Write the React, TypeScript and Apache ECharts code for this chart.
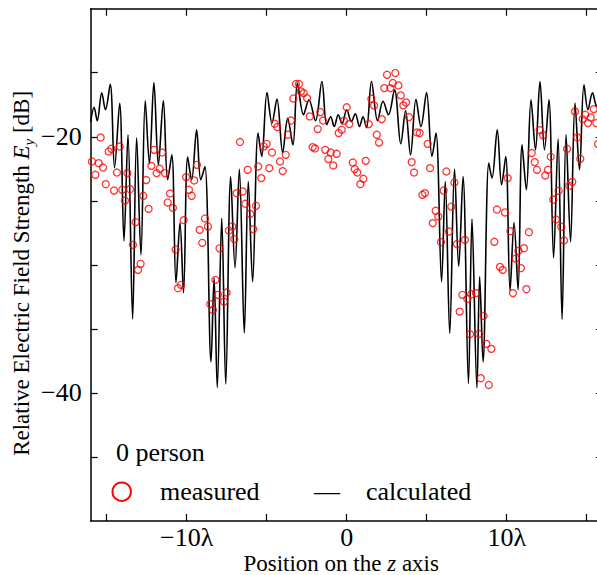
import React, { useEffect, useRef } from 'react';
import * as echarts from 'echarts';

const SERIF = '"Liberation Serif", "Times New Roman", serif';

const xTicks = [-15, -10, -5, 0, 5, 10, 15];
const xTickLabels = [-10, 0, 10];
const yTicks = [-45, -40, -35, -30, -25, -20, -15];
const yTickLabels = [-40, -20];

const legendTitle = '0 person';
const measuredName = 'measured';
const calculatedName = 'calculated';

const calcX = [
  -16.0, -15.79, -15.59, -15.31, -15.08, -14.78, -14.51, -14.19, -13.92, -13.67,
  -13.38, -13.13, -12.86, -12.59, -12.33, -12.05, -11.77, -11.46, -11.19, -10.93,
  -10.67, -10.42, -10.2, -9.94, -9.69, -9.38, -9.12, -8.86, -8.48, -8.29,
  -8.09, -7.81, -7.56, -7.25, -6.98, -6.71, -6.4, -6.15, -5.88, -5.54,
  -5.31, -4.98, -4.67, -4.36, -4.0, -3.69, -3.36, -3.08, -2.7, -2.36,
  -1.95, -1.55, -1.25, -1.0, -0.78, -0.53, -0.29, 0.0,
  0.29, 0.54, 0.8, 1.02, 1.24, 1.55, 1.93, 2.27, 2.61, 2.99,
  3.38, 3.68, 3.99, 4.33, 4.64, 4.99, 5.33, 5.58, 5.93, 6.16,
  6.44, 6.74, 7.0, 7.27, 7.61, 7.83, 8.14, 8.31, 8.52, 8.88,
  9.08, 9.41, 9.68, 9.94, 10.21, 10.46, 10.71, 10.96, 11.23, 11.52,
  11.8, 12.08, 12.36, 12.64, 12.93, 13.21, 13.46, 13.71, 13.99, 14.27,
  14.55, 14.83, 15.08, 15.36, 15.6, 15.83, 16.0,
];
const calcY = [
  -18.83, -17.70, -18.75, -16.56, -17.89, -15.90, -22.42, -17.38, -28.13, -19.84,
  -34.22, -20.08, -29.22, -17.19, -22.11, -15.76, -22.19, -17.19, -23.36, -21.41,
  -31.40, -26.72, -32.19, -21.58, -23.36, -19.45, -23.36, -22.32, -37.58, -31.02,
  -39.57, -26.37, -39.30, -23.13, -30.23, -22.54, -35.31, -23.49, -31.31, -19.71,
  -21.54, -16.54, -18.93, -17.06, -21.25, -18.55, -20.63, -15.80, -18.28, -17.11,
  -18.75, -15.68, -19.06, -18.44, -19.20, -18.28, -18.98, -17.89,
  -18.80, -18.20, -19.20, -18.44, -19.30, -15.68, -18.75, -17.23, -18.28, -16.33,
  -20.55, -17.97, -21.41, -17.07, -19.20, -16.54, -21.54, -19.71, -31.31, -23.49,
  -35.34, -22.52, -30.13, -23.10, -39.26, -26.43, -39.61, -30.94, -37.58, -22.06,
  -23.23, -19.45, -23.75, -21.54, -32.03, -26.70, -31.95, -20.63, -24.14, -17.11,
  -21.02, -15.68, -21.02, -17.11, -29.45, -20.16, -34.24, -19.84, -28.18, -17.37,
  -22.58, -15.94, -17.89, -16.56, -17.58, -17.71, -18.83,
];

const measX = [
  -15.92, -15.71, -15.5, -15.38, -15.23, -15.06, -14.88, -14.71, -14.54, -14.36,
  -14.19, -14.03, -13.86, -13.71, -13.54, -13.36, -13.19, -13.04, -12.88, -12.71,
  -12.53, -12.38, -12.21, -12.03, -11.88, -11.69, -11.54, -11.36, -11.19, -11.04,
  -10.86, -10.69, -10.54, -10.36, -10.19, -10.04, -9.86, -9.69, -9.53, -9.36,
  -9.19, -9.03, -8.86, -8.67, -8.53, -8.36, -8.21, -8.04, -7.95, -7.67,
  -7.5, -7.36, -7.15, -7.03, -6.88, -6.67, -6.5, -6.34, -6.19, -6.03,
  -5.84, -5.67, -5.53, -5.34, -5.19, -5.0, -4.84, -4.67, -4.5, -4.34,
  -4.17, -4.0, -3.81, -3.67, -3.48, -3.34, -3.17, -2.98, -2.86, -2.69,
  -2.48, -2.31, -2.13, -1.98, -1.81, -1.65, -1.48, -1.34, -1.15, -1.0,
  -0.84, -0.63, -0.5, -0.31, -0.17, 0.0, 0.16, 0.38, 0.5, 0.66,
  0.85, 1.04, 1.19, 1.38, 1.54, 1.71, 1.88, 2.02, 2.19, 2.35,
  2.52, 2.73, 2.88, 3.04, 3.23, 3.38, 3.54, 3.71, 3.89, 4.06,
  4.21, 4.39, 4.56, 4.73, 4.89, 5.06, 5.21, 5.38, 5.56, 5.73,
  5.89, 6.06, 6.23, 6.39, 6.54, 6.73, 6.89, 7.06, 7.23, 7.39,
  7.54, 7.71, 7.79, 8.08, 8.27, 8.38, 8.56, 8.73, 8.88, 9.04,
  9.23, 9.39, 9.58, 9.75, 9.89, 10.06, 10.23, 10.39, 10.56, 10.73,
  10.89, 11.08, 11.23, 11.39, 11.56, 11.75, 11.89, 12.06, 12.27, 12.41,
  12.58, 12.75, 12.91, 13.08, 13.25, 13.41, 13.58, 13.77, 13.91, 14.1,
  14.27, 14.41, 14.6, 14.75, 14.91, 15.08, 15.25, 15.44, 15.6, 15.71,
];
const measY = [
  -21.93, -22.97, -22.06, -20.05, -22.40, -23.70, -21.15, -20.94, -24.20, -22.79,
  -20.76, -24.14, -24.98, -22.84, -24.09, -28.44, -26.66, -30.39, -29.92, -24.61,
  -23.38, -25.63, -22.27, -21.02, -22.84, -22.50, -21.23, -22.84, -25.13, -24.43,
  -25.55, -28.80, -31.82, -31.56, -26.51, -23.15, -24.14, -24.61, -23.41, -22.19,
  -27.27, -28.28, -26.38, -27.01, -33.07, -33.52, -31.17, -32.34, -28.71, -32.87,
  -32.16, -27.32, -27.01, -27.99, -24.40, -20.41, -24.27, -25.23, -22.58, -26.02,
  -27.21, -25.39, -22.32, -23.23, -20.76, -20.55, -22.45, -21.23, -18.98, -19.24,
  -21.93, -22.68, -21.41, -19.84, -18.73, -17.01, -15.88, -15.88, -16.46, -16.59,
  -16.98, -18.41, -20.81, -20.91, -19.40, -18.07, -18.73, -21.02, -21.74, -21.23,
  -22.24, -21.33, -19.71, -19.45, -18.75, -17.70, -19.01, -22.01, -22.52, -22.79,
  -23.70, -23.28, -21.88, -19.01, -17.03, -17.55, -19.84, -20.45, -18.62, -16.20,
  -15.16, -16.20, -15.80, -15.02, -15.99, -16.77, -17.55, -17.32, -18.46, -21.98,
  -22.79, -19.66, -19.71, -24.53, -24.40, -20.55, -22.45, -26.74, -25.78, -26.23,
  -28.23, -24.20, -22.71, -27.40, -25.45, -23.57, -28.38, -33.65, -32.34, -28.05,
  -32.66, -35.41, -32.29, -32.21, -35.39, -38.85, -33.98, -36.17, -39.38, -36.56,
  -28.20, -25.68, -30.16, -30.39, -25.91, -23.23, -27.37, -32.21, -29.51, -28.91,
  -30.26, -28.70, -31.90, -27.45, -21.27, -21.98, -22.58, -19.48, -19.87, -23.02,
  -22.58, -21.56, -24.90, -26.46, -24.22, -27.03, -28.10, -20.94, -23.83, -23.52,
  -18.02, -20.05, -21.72, -18.62, -18.28, -18.93, -18.49, -17.84, -18.93, -20.57,
];

const minus = (v: number) => (v < 0 ? '\u2212' + Math.abs(v) : String(v));

export default function App() {
  const ref = useRef<HTMLDivElement>(null);
  useEffect(() => {
    if (!ref.current) return;
    const chart = echarts.init(ref.current, null, { renderer: 'svg' });
    const n1 = Math.min(calcX.length, calcY.length);
    const calcData = [] as number[][];
    for (let i = 0; i < n1; i++) calcData.push([calcX[i], calcY[i]]);
    const n2 = Math.min(measX.length, measY.length);
    const measData = [] as number[][];
    for (let i = 0; i < n2; i++) measData.push([measX[i], measY[i]]);

    const axisLine = { show: true, onZero: false, lineStyle: { color: '#000', width: 1.5 } };
    const tickStyle = { color: '#000', width: 1.2 };
    const baseText = { fontFamily: SERIF, color: '#000' };

    const option: any = {
      animation: false,
      backgroundColor: '#fff',
      grid: { left: 90.7, top: 8.7, width: 512, height: 512.3, containLabel: false, outerBoundsMode: 'none' },
      xAxis: [
        {
          type: 'value', min: -16, max: 16, position: 'bottom',
          axisLine,
          axisTick: { show: true, inside: true, length: 7, customValues: xTicks, lineStyle: tickStyle },
          axisLabel: {
            show: true, customValues: xTickLabels, margin: 4, fontSize: 26, lineHeight: 25, ...baseText,
            hideOverlap: false,
            formatter: (v: number) => (v === 0 ? '0' : minus(v) + '\u03bb'),
          },
          splitLine: { show: false },
          name: '{a|Position on the }{i|z}{a| axis}',
          nameLocation: 'middle',
          nameGap: 31,
          nameMoveOverlap: false,
          nameTextStyle: {
            padding: [0, 11, 0, 0],
            rich: {
              a: { fontSize: 23, fontFamily: SERIF, color: '#000', lineHeight: 22 },
              i: { fontSize: 23, fontFamily: SERIF, color: '#000', fontStyle: 'italic', lineHeight: 22 },
            },
          },
        },
        {
          type: 'value', min: -16, max: 16, position: 'top',
          axisLine,
          axisTick: { show: true, inside: true, length: 7, customValues: xTicks, lineStyle: tickStyle },
          axisLabel: { show: false },
          splitLine: { show: false },
        },
      ],
      yAxis: [
        {
          type: 'value', min: -50, max: -10, position: 'left',
          axisLine,
          axisTick: { show: true, inside: true, length: 7, customValues: yTicks, lineStyle: tickStyle },
          axisLabel: {
            show: true, customValues: yTickLabels, margin: 9, fontSize: 26, ...baseText,
            formatter: (v: number) => minus(v),
          },
          splitLine: { show: false },
          name: '{a|Relative Electric Field Strength }{i|E}{s|y}{a| [dB]}',
          nameLocation: 'middle',
          nameGap: 54,
          nameMoveOverlap: false,
          nameTextStyle: {
            padding: [0, 17, 0, 0],
            rich: {
              a: { fontSize: 23, fontFamily: SERIF, color: '#000', lineHeight: 30 },
              i: { fontSize: 23, fontFamily: SERIF, color: '#000', fontStyle: 'italic', lineHeight: 30 },
              s: { fontSize: 15, fontFamily: SERIF, color: '#000', fontStyle: 'italic', verticalAlign: 'bottom' },
            },
          },
        },
        {
          type: 'value', min: -50, max: -10, position: 'right',
          axisLine,
          axisTick: { show: true, inside: true, length: 7, customValues: yTicks, lineStyle: tickStyle },
          axisLabel: { show: false },
          splitLine: { show: false },
        },
      ],
      series: [
        {
          name: calculatedName,
          type: 'line',
          data: calcData,
          showSymbol: false,
          symbol: 'none',
          smooth: 0.35,
          lineStyle: { color: '#000', width: 1.6 },
          z: 2,
        },
        {
          name: measuredName,
          type: 'scatter',
          data: measData,
          symbol: 'circle',
          symbolSize: 7,
          itemStyle: { color: 'rgba(0,0,0,0)', borderColor: '#ff0000', borderWidth: 1.3 },
          z: 3,
        },
      ],
      graphic: [
        {
          type: 'text', x: 116, y: 452,
          style: { text: legendTitle, font: `26px ${SERIF}`, fill: '#000', textVerticalAlign: 'middle', verticalAlign: 'middle' },
        },
        {
          type: 'circle', shape: { cx: 121.7, cy: 491.7, r: 9.2 },
          style: { fill: 'none', stroke: '#ff0000', lineWidth: 2 },
        },
        {
          type: 'text', x: 160, y: 491.2,
          style: { text: measuredName, font: `26px ${SERIF}`, fill: '#000', textVerticalAlign: 'middle', verticalAlign: 'middle' },
        },
        {
          type: 'text', x: 314, y: 491.2,
          style: { text: '\u2014', font: `26px ${SERIF}`, fill: '#000', textVerticalAlign: 'middle', verticalAlign: 'middle' },
        },
        {
          type: 'text', x: 366, y: 491.2,
          style: { text: calculatedName, font: `26px ${SERIF}`, fill: '#000', textVerticalAlign: 'middle', verticalAlign: 'middle' },
        },
      ],
    };
    chart.setOption(option);
    return () => chart.dispose();
  }, []);
  return <div ref={ref} style={{ position: 'absolute', left: 0, top: 0, width: 597, height: 575 }} />;
}
